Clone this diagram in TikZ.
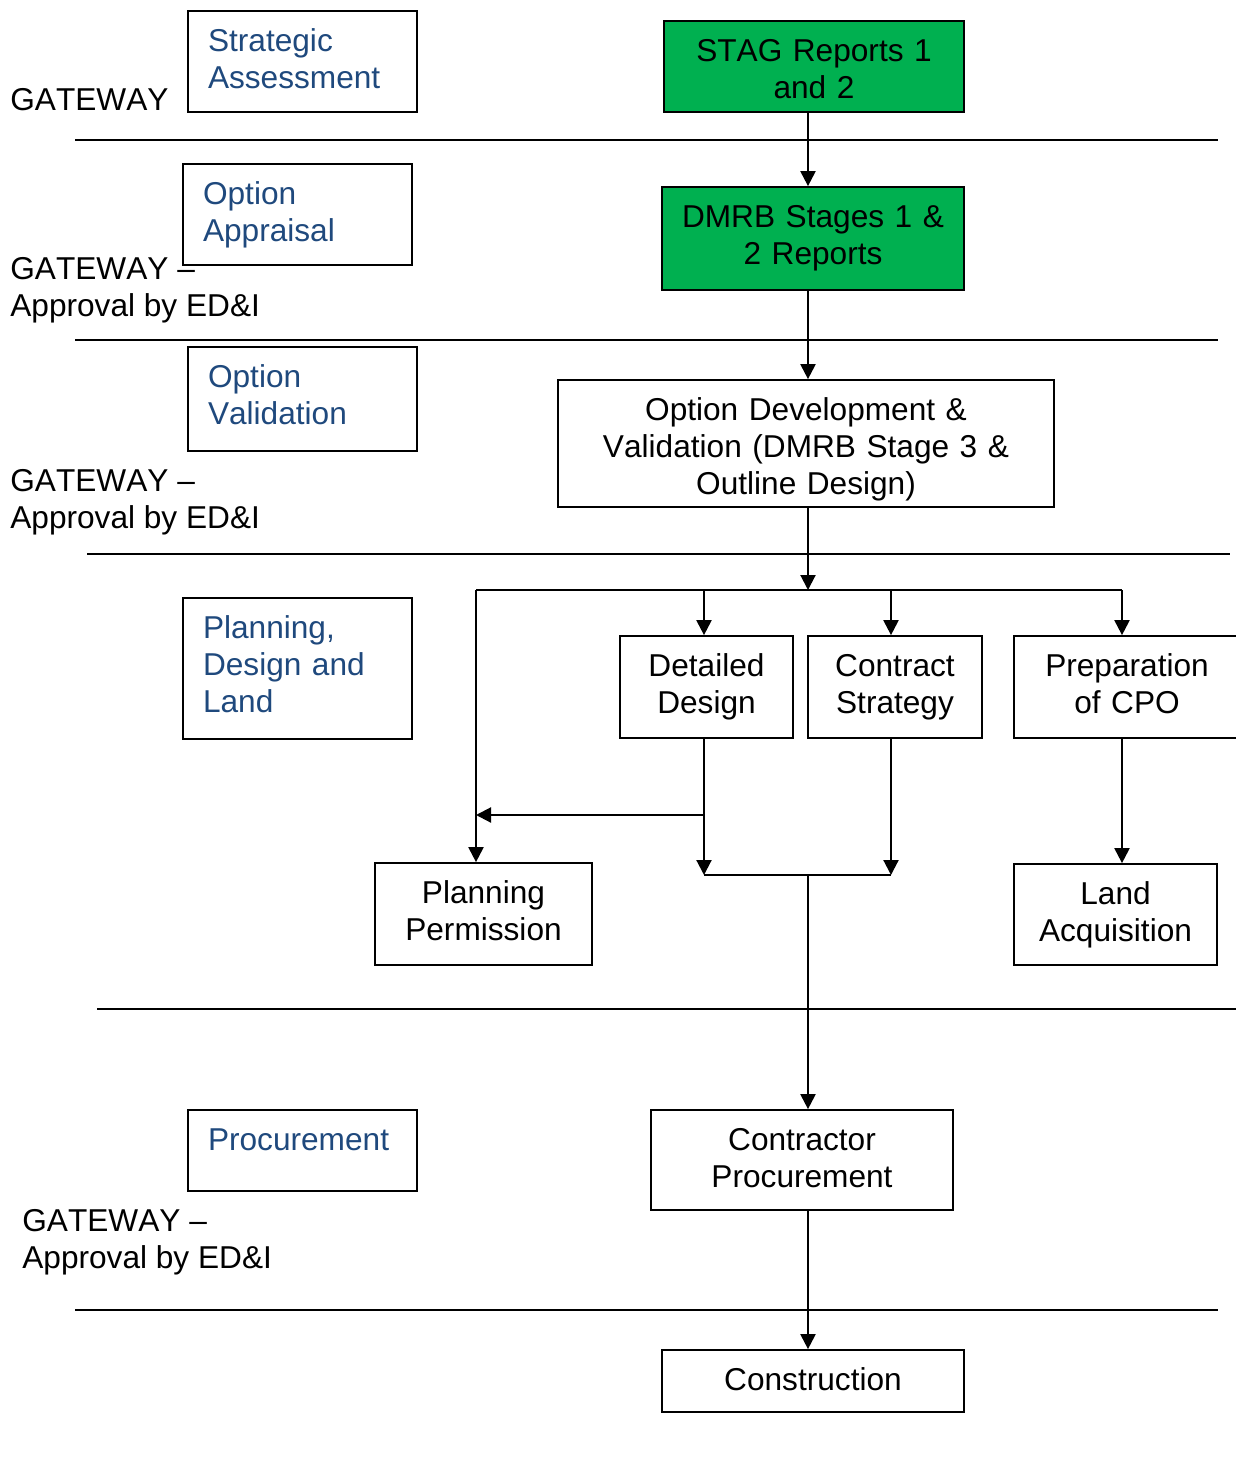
\documentclass[tikz,border=0pt]{standalone}
\usepackage{fontspec}
\setmainfont{Liberation Sans}[Kerning=Off]
\usetikzlibrary{arrows.meta}
\definecolor{stagegreen}{RGB}{0,176,80}
\definecolor{stageblue}{RGB}{31,73,125}

\tikzset{
  every node/.style={font=\fontsize{18}{21}\selectfont},
  flowbox/.style 2 args={draw, line width=1pt, align=center, inner sep=0pt,
    text width=#1, text height=0.81cm, text depth=#2},
  greenbox/.style 2 args={flowbox={#1}{#2}, fill=stagegreen},
  stagebox/.style={draw, line width=1pt, text=stageblue, align=left,
    inner ysep=0pt, inner xsep=0.4cm, text width=3.78cm,
    text height=0.81cm, text depth=#1},
  gatelabel/.style={anchor=west, align=left, inner sep=0pt},
  flow/.style={line width=1.2pt, -{Triangle[length=0.3cm,width=0.3cm]}},
  link/.style={line width=1.2pt},
  divider/.style={line width=1.2pt}
}

\begin{document}
\begin{tikzpicture}[x=0.02cm, y=-0.02cm]
  \useasboundingbox (0,0) rectangle (1235,1457);

  % gateway dividers
  \foreach \y/\a/\b in {140/75/1218, 340/75/1218, 554/87/1230, 1009/97/1240, 1310/75/1218}
    \draw[divider] (\a,\y) -- (\b,\y);

  % stages (left column)
  \node[stagebox=1.21cm] (strat) at (302.5,61.5) {Strategic\\Assessment};
  \node[stagebox=1.21cm] (apprais) at (297.5,214.5) {Option\\Appraisal};
  \node[stagebox=1.27cm] (valid) at (302.5,399) {Option\\Validation};
  \node[stagebox=2.01cm] (plandes) at (297.5,668.5) {Planning,\\Design and\\Land};
  \node[stagebox=0.81cm] (procure) at (302.5,1150.5) {Procurement};

  \node[gatelabel] (gate1) at (10,100) {GATEWAY};
  \node[gatelabel] (gate2) at (10,290.5) {GATEWAY –\\Approval by ED\&I};
  \node[gatelabel] (gate3) at (10,502.5) {GATEWAY –\\Approval by ED\&I};
  \node[gatelabel] (gate4) at (22,1242.5) {GATEWAY –\\Approval by ED\&I};

  % process boxes
  \node[greenbox={6cm}{1.01cm}] (stag) at (814,66.5) {STAG Reports 1\\and 2};
  \node[greenbox={6.04cm}{1.25cm}] (dmrb) at (813,238.5) {DMRB Stages 1 \&\\2 Reports};
  \node[flowbox={9.92cm}{1.73cm}] (optdev) at (806,443.5)
    {Option Development \&\\Validation (DMRB Stage 3 \&\\Outline Design)};
  \node[flowbox={3.46cm}{1.23cm}] (detail) at (706.5,687) {Detailed\\Design};
  \node[flowbox={3.48cm}{1.23cm}] (contract) at (895,687) {Contract\\Strategy};
  \node[flowbox={4.52cm}{1.23cm}] (cpo) at (1127,687) {Preparation\\of CPO};
  \node[flowbox={4.34cm}{1.23cm}] (planperm) at (483.5,914) {Planning\\Permission};
  \node[flowbox={4.06cm}{1.21cm}] (landacq) at (1115.5,914.5) {Land\\Acquisition};
  \node[flowbox={6.04cm}{1.19cm}] (contproc) at (802,1160) {Contractor\\Procurement};
  \node[flowbox={6.04cm}{0.43cm}] (constr) at (813,1381) {Construction};

  \coordinate (spine) at (808,0);
  \coordinate (split) at (808,590);
  \coordinate (splitL) at (476,590);
  \coordinate (splitR) at (1122,590);
  \coordinate (colD) at (704,590);
  \coordinate (colC) at (891,590);
  \coordinate (join) at (808,875);
  \coordinate (tap) at (704,815);

  % main line
  \draw[flow] (stag.south -| spine) -- (dmrb.north -| spine);
  \draw[flow] (dmrb.south -| spine) -- (optdev.north -| spine);
  \draw[flow] (optdev.south -| spine) -- (split);
  % branches
  \draw[link] (splitL) -- (splitR);
  \draw[flow] (colD) -- (detail.north -| colD);
  \draw[flow] (colC) -- (contract.north -| colC);
  \draw[flow] (splitR) -- (cpo.north -| splitR);
  \draw[flow] (splitL) -- (planperm.north -| splitL);
  \draw[flow] (tap) -- (tap -| splitL);
  \draw[flow] (detail.south -| colD) -- (join -| colD);
  \draw[flow] (contract.south -| colC) -- (join -| colC);
  \draw[link] (join -| colD) -- (join -| colC);
  \draw[flow] (cpo.south -| splitR) -- (landacq.north -| splitR);
  % to procurement and construction
  \draw[flow] (join) -- (contproc.north -| join);
  \draw[flow] (contproc.south -| spine) -- (constr.north -| spine);
\end{tikzpicture}
\end{document}
